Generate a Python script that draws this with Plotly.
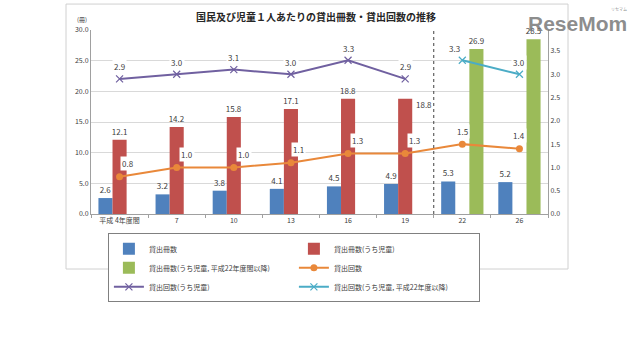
import plotly.graph_objects as go

categories = ["平成 4年度間", "7", "10", "13", "16", "19", "22", "26"]
books_total = [2.6, 3.2, 3.8, 4.1, 4.5, 4.9, 5.3, 5.2]
books_child = [12.1, 14.2, 15.8, 17.1, 18.8, 18.8, None, None]
books_child_new = [None, None, None, None, None, None, 26.9, 28.5]
loans_total = [0.8, 1.0, 1.0, 1.1, 1.3, 1.3, 1.5, 1.4]
loans_child = [2.9, 3.0, 3.1, 3.0, 3.3, 2.9, None, None]
loans_child_new = [None, None, None, None, None, None, 3.3, 3.0]

names = ["貸出冊数", "貸出冊数(うち児童)", "貸出冊数(うち児童, 平成22年度間以降)",
         "貸出回数", "貸出回数(うち児童)", "貸出回数(うち児童, 平成22年度以降)"]

FONT = "Noto Sans CJK JP"
LBL = "#404040"
BLUE, RED, GREEN = "#4f81bd", "#c0504d", "#9bbb59"
ORANGE, PURPLE, CYAN = "#e9883a", "#7060a0", "#4bacc6"

fig = go.Figure()

red_pos = ["outside"] * 5 + ["none", "none", "none"]
for vals, name, col, pos in [
    (books_total, names[0], BLUE, "outside"),
    (books_child, names[1], RED, red_pos),
    (books_child_new, names[2], GREEN, "outside"),
]:
    fig.add_trace(go.Bar(
        x=categories, y=vals, name=name, marker=dict(color=col, line=dict(width=0)),
        text=[("%.1f" % v) if v is not None else "" for v in vals],
        textposition=pos, constraintext="none", cliponaxis=False,
        textfont=dict(size=8, color=LBL, family=FONT),
    ))

fig.add_trace(go.Scatter(
    x=categories, y=loans_total, name=names[3], yaxis="y2", mode="lines+markers",
    line=dict(color=ORANGE, width=2), marker=dict(symbol="circle", size=7, color=ORANGE),
))
fig.add_trace(go.Scatter(
    x=categories, y=loans_child, name=names[4], yaxis="y2", mode="lines+markers",
    line=dict(color=PURPLE, width=2), marker=dict(symbol="x-thin", size=7,
                                                   line=dict(color=PURPLE, width=1.2)),
))
fig.add_trace(go.Scatter(
    x=categories, y=loans_child_new, name=names[5], yaxis="y2", mode="lines+markers",
    line=dict(color=CYAN, width=2), marker=dict(symbol="x-thin", size=7,
                                                 line=dict(color=CYAN, width=1.2)),
))

annotations = []
# label for the red bar of 19 (placed at right of bar)
annotations.append(dict(x=5, y=books_child[5], xref="x", yref="y",
                        text="%.1f" % books_child[5], showarrow=False, xshift=19, yshift=-6,
                        font=dict(size=8, color=LBL, family=FONT)))
orange_shift = [8, 10, 10, 8, 9, 9, 0, 0]
for i, v in enumerate(loans_total):
    annotations.append(dict(x=i, y=v, xref="x", yref="y2", text="%.1f" % v,
                            showarrow=False, yshift=13, xshift=orange_shift[i],
                            bgcolor="white", font=dict(size=8, color=LBL, family=FONT)))
for i, v in enumerate(loans_child):
    if v is None:
        continue
    annotations.append(dict(x=i, y=v, xref="x", yref="y2", text="%.1f" % v,
                            showarrow=False, yshift=12, bgcolor="white",
                            font=dict(size=8, color=LBL, family=FONT)))
cyan_shift = [0, 0, 0, 0, 0, 0, -8, 0]
for i, v in enumerate(loans_child_new):
    if v is None:
        continue
    annotations.append(dict(x=i, y=v, xref="x", yref="y2", text="%.1f" % v,
                            showarrow=False, yshift=12, xshift=cyan_shift[i], bgcolor="white",
                            font=dict(size=8, color=LBL, family=FONT)))
# unit label
annotations.append(dict(x=-0.005, y=1.02, xref="paper", yref="paper", text="(冊)",
                        showarrow=False, xanchor="right", yanchor="bottom",
                        font=dict(size=6, color=LBL, family=FONT)))
# watermark logo
annotations.append(dict(x=1.065, y=1.035, xref="paper", yref="paper", text="<b>ReseMom</b>",
                        showarrow=False, xanchor="center", yanchor="middle",
                        font=dict(size=21, color="rgba(120,120,120,0.85)", family="Liberation Sans")))
annotations.append(dict(x=1.155, y=1.115, xref="paper", yref="paper", text="リセマム",
                        showarrow=False, xanchor="center", yanchor="middle",
                        font=dict(size=4, color="rgba(120,120,120,0.85)", family=FONT)))

shapes = [
    dict(type="line", xref="x", yref="paper", x0=5.5, x1=5.5, y0=0, y1=1,
         line=dict(color="#404040", width=1, dash="dot")),
    dict(type="rect", xref="paper", yref="paper", x0=-0.0547, x1=1.0438, y0=-0.299, y1=1.141,
         line=dict(color="#d0d0d0", width=1), layer="below"),
]

fig.update_layout(
    width=640, height=347,
    margin=dict(l=91, r=92, t=30, b=133),
    paper_bgcolor="white", plot_bgcolor="white",
    font=dict(family=FONT, size=7, color=LBL),
    title=dict(text="<b>国民及び児童１人あたりの貸出冊数・貸出回数の推移</b>",
               x=316 / 640, xanchor="center", y=1 - 17 / 347, yanchor="middle",
               font=dict(size=10, color="#262626", family=FONT)),
    barmode="group", bargap=0.26, bargroupgap=0,
    xaxis=dict(type="category", showline=True, linecolor="#a0a0a0", linewidth=1,
               ticks="outside", tickson="boundaries", ticklen=3, tickcolor="#a0a0a0",
               tickfont=dict(size=7, color=LBL), showgrid=False, tickangle=0),
    yaxis=dict(range=[0, 30], tickvals=[0, 5, 10, 15, 20, 25, 30], tickformat=".1f",
               showline=True, linecolor="#a0a0a0", linewidth=1, gridcolor="#d9d9d9",
               gridwidth=1, zeroline=False, tickfont=dict(size=7, color=LBL),
               ticks="", ticklen=3),
    yaxis2=dict(range=[0, 3.95], overlaying="y", side="right",
                tickvals=[0, 0.5, 1, 1.5, 2, 2.5, 3, 3.5], tickformat=".1f",
                showline=True, linecolor="#a0a0a0", linewidth=1, showgrid=False,
                zeroline=False, tickfont=dict(size=7, color=LBL)),
    legend=dict(orientation="h", x=0.037, y=-0.105, xanchor="left", yanchor="top",
                entrywidth=140, bordercolor="#808080", borderwidth=1, bgcolor="white",
                font=dict(size=7, color=LBL, family=FONT), tracegroupgap=0,
                itemwidth=30, traceorder="normal"),
    annotations=annotations, shapes=shapes, showlegend=True,
)

fig.write_html("out.html")
